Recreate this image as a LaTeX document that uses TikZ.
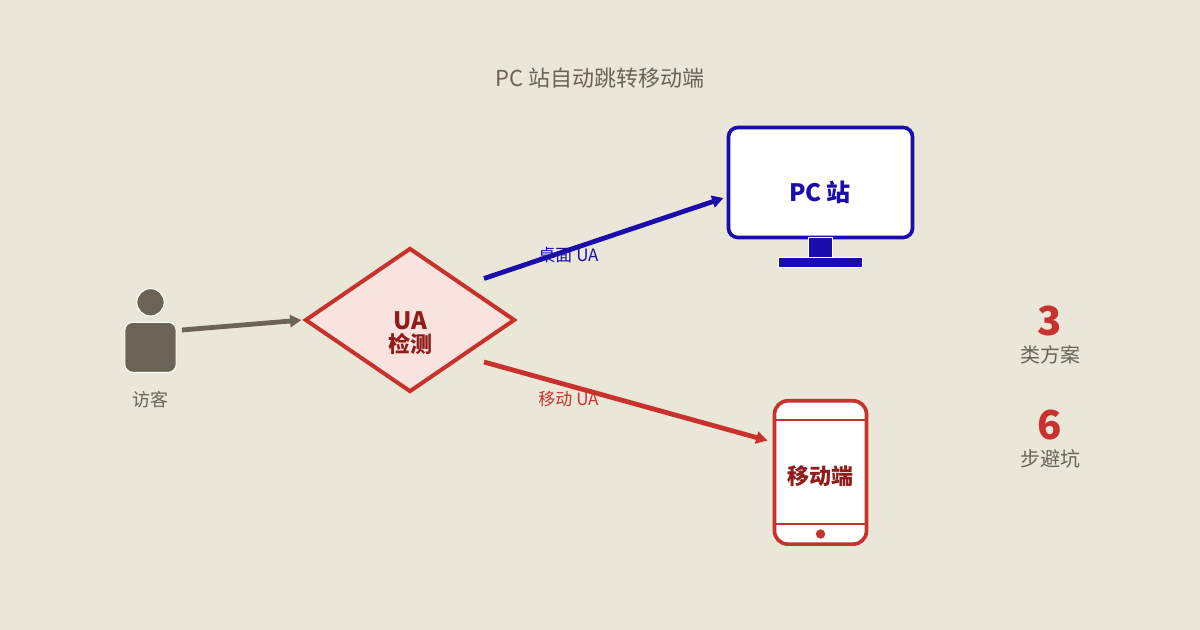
\documentclass[tikz,border=0pt]{standalone}
\usepackage{fontspec}
\setmainfont{Noto Sans CJK SC}
\usetikzlibrary{arrows.meta,shapes.geometric}
\definecolor{paper}{HTML}{EAE6D8}
\definecolor{ink}{HTML}{6B6456}
\definecolor{pcblue}{HTML}{1A0DAB}
\definecolor{alert}{HTML}{C8322D}
\definecolor{darkred}{HTML}{8F1D1A}
\definecolor{pinkfill}{HTML}{F9E3DF}
\tikzset{
	label text/.style={inner sep=0pt,text=#1},
	flow/.style={#1,line width=3.6pt,shorten >=1.2pt,-{Triangle[length=8.5pt,width=9pt]}},
	solid part/.style={fill=#1,draw=white,line width=0.75pt},
	screen box/.style={draw=#1,fill=white,line width=2.75pt,inner sep=0pt}
}
\begin{document}
\begin{tikzpicture}[x=0.75pt,y=-0.75pt]
	\useasboundingbox (0,0) rectangle (1200,630);
	\fill [paper] (0,0) rectangle (1200,630);
	\node [label text=ink,font=\fontsize{16.5}{20}\selectfont] (title) at (600,78) {PC 站自动跳转移动端};
	% visitor
	\node [solid part=ink,circle,minimum size=20.5pt,inner sep=0pt] (head) at (150.5,302.3) {};
	\node [solid part=ink,rectangle,rounded corners=6pt,minimum width=38.5pt,minimum height=37.5pt,inner sep=0pt] (body) at (150.5,347.3) {};
	\node [label text=ink,font=\fontsize{13.5}{16}\selectfont] (visitor) at (150.5,400) {访客};
	% decision
	\node [diamond,draw=alert,fill=pinkfill,line width=3pt,minimum width=157.5pt,minimum height=108pt,inner sep=0pt,aspect=1.46] (check) at (410,320) {};
	\node [label text=darkred,font=\fontsize{18}{22}\bfseries\selectfont] (ua) at (410,321) {UA};
	\node [label text=darkred,font=\fontsize{16.5}{20}\bfseries\selectfont] (checktext) at (410,344) {检测};
	% monitor
	\node [screen box=pcblue,rectangle,rounded corners=7pt,minimum width=138pt,minimum height=82.5pt] (monitor) at (820.5,182.5) {};
	\node [label text=pcblue,font=\fontsize{18}{22}\bfseries\selectfont] (pc) at (820,192) {PC 站};
	\node [solid part=pcblue,minimum width=18pt,minimum height=15pt,inner sep=0pt] (neck) at (820.5,247.5) {};
	\node [solid part=pcblue,minimum width=62.5pt,minimum height=7.5pt,inner sep=0pt] (base) at (820.5,262.5) {};
	% phone
	\node [screen box=alert,rectangle,rounded corners=10pt,minimum width=69pt,minimum height=107.5pt] (phone) at (820.5,472.5) {};
	\draw [alert,line width=1.5pt] (phone.west |- 0,420) coordinate (top l) -- (phone.east |- 0,420) coordinate (top r);
	\draw [alert,line width=1.5pt] (phone.west |- 0,524) coordinate (bot l) -- (phone.east |- 0,524) coordinate (bot r);
	\node [circle,fill=alert,minimum size=7pt,inner sep=0pt] (homekey) at (820.5,534) {};
	\node [label text=darkred,font=\fontsize{16.5}{20}\bfseries\selectfont] (mobile) at (820,476) {移动端};
	% connectors
	\coordinate (out visitor) at (182,330);
	\coordinate (out pc) at (484,278.5);
	\coordinate (in pc) at (725,197.5);
	\coordinate (out mobile) at (484,362);
	\coordinate (in mobile) at (769,441);
	\draw [flow=ink] (out visitor) -- (check.west);
	\draw [flow=pcblue] (out pc) -- (in pc);
	\draw [flow=alert] (out mobile) -- (in mobile);
	\node [label text=pcblue,font=\fontsize{12.75}{16}\selectfont] (desktop ua) at (568.5,255.5) {桌面 UA};
	\node [label text=alert,font=\fontsize{12.75}{16}\selectfont] (mobile ua) at (568.5,399.5) {移动 UA};
	% numbers
	\node [label text=alert,font=\fontsize{30}{36}\bfseries\selectfont] (three) at (1049.5,320.5) {3};
	\node [label text=ink,font=\fontsize{15}{18}\selectfont] (kinds) at (1050,354.5) {类方案};
	\node [label text=alert,font=\fontsize{30}{36}\bfseries\selectfont] (six) at (1049.5,424.5) {6};
	\node [label text=ink,font=\fontsize{15}{18}\selectfont] (steps) at (1050,458.5) {步避坑};
\end{tikzpicture}
\end{document}
